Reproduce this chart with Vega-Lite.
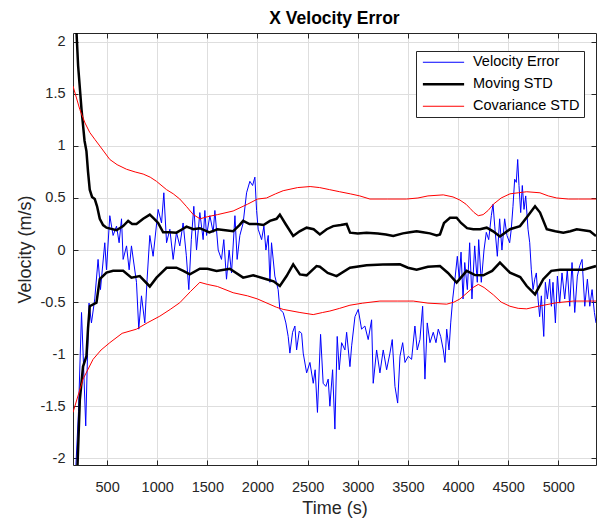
{
  "$schema": "https://vega.github.io/schema/vega-lite/v6.json",
  "width": 523,
  "height": 432,
  "autosize": {"type": "none"},
  "padding": {"left": 73, "top": 33, "right": 7, "bottom": 57},
  "background": "white",
  "title": {"text": "X Velocity Error", "font": "Liberation Sans", "fontSize": 17.5, "fontWeight": "bold", "color": "#000000", "anchor": "middle", "baseline": "alphabetic", "offset": -9},
  "config": {
    "font": "Liberation Sans",
    "view": {"stroke": null},
    "axis": {
      "domainColor": "#262626", "tickColor": "#262626", "tickSize": -5, "tickWidth": 1, "domainWidth": 1,
      "labelFont": "Liberation Sans", "labelFontSize": 14.5, "labelColor": "#262626",
      "titleFont": "Liberation Sans", "titleFontSize": 18, "titleFontWeight": "normal", "titleColor": "#262626",
      "gridColor": "#dedede", "gridOpacity": 1, "gridWidth": 1
    }
  },
  "datasets": {
    "err": [
      {"t":185,"v":-2.15},{"t":215,"v":-1.55},{"t":245,"v":-0.6},{"t":265,"v":-1.1},{"t":287,"v":-1.69},{"t":305,"v":-1.0},{"t":320,"v":-0.51},{"t":344,"v":-0.7},{"t":377,"v":-0.47},{"t":410,"v":-0.09},{"t":434,"v":-0.38},{"t":477,"v":0.07},{"t":494,"v":-0.19},{"t":527,"v":0.33},{"t":560,"v":0.14},{"t":594,"v":0.23},{"t":620,"v":0.07},{"t":644,"v":0.3},{"t":660,"v":-0.09},{"t":694,"v":0.04},{"t":720,"v":-0.19},{"t":743,"v":0.04},{"t":793,"v":-0.31},{"t":816,"v":-0.76},{"t":843,"v":-0.44},{"t":876,"v":-0.7},{"t":899,"v":-0.28},{"t":926,"v":0.14},{"t":959,"v":-0.06},{"t":1009,"v":0.39},{"t":1043,"v":0.26},{"t":1066,"v":0.55},{"t":1093,"v":0.07},{"t":1126,"v":0.2},{"t":1159,"v":-0.09},{"t":1192,"v":0.17},{"t":1225,"v":0.04},{"t":1258,"v":0.26},{"t":1290,"v":-0.05},{"t":1315,"v":-0.38},{"t":1340,"v":0.1},{"t":1365,"v":0.42},{"t":1392,"v":0.0},{"t":1425,"v":0.36},{"t":1458,"v":0.1},{"t":1475,"v":0.38},{"t":1492,"v":0.14},{"t":1525,"v":0.33},{"t":1558,"v":0.17},{"t":1575,"v":0.38},{"t":1608,"v":0.0},{"t":1641,"v":-0.09},{"t":1664,"v":0.1},{"t":1691,"v":-0.28},{"t":1717,"v":0.0},{"t":1741,"v":-0.22},{"t":1775,"v":0.33},{"t":1797,"v":-0.09},{"t":1824,"v":0.14},{"t":1857,"v":0.26},{"t":1891,"v":0.55},{"t":1924,"v":0.66},{"t":1951,"v":0.62},{"t":1974,"v":0.7},{"t":1991,"v":0.38},{"t":2007,"v":0.2},{"t":2041,"v":0.1},{"t":2064,"v":0.23},{"t":2084,"v":0.0},{"t":2107,"v":0.14},{"t":2124,"v":-0.31},{"t":2140,"v":0.07},{"t":2173,"v":-0.25},{"t":2206,"v":-0.38},{"t":2223,"v":-0.57},{"t":2256,"v":-0.6},{"t":2283,"v":-0.7},{"t":2306,"v":-0.83},{"t":2323,"v":-0.99},{"t":2350,"v":-0.79},{"t":2373,"v":-0.73},{"t":2390,"v":-0.96},{"t":2416,"v":-0.78},{"t":2440,"v":-0.8},{"t":2456,"v":-0.99},{"t":2490,"v":-1.18},{"t":2523,"v":-1.08},{"t":2556,"v":-1.28},{"t":2575,"v":-1.15},{"t":2598,"v":-1.56},{"t":2629,"v":-0.81},{"t":2655,"v":-1.28},{"t":2682,"v":-1.31},{"t":2705,"v":-1.24},{"t":2722,"v":-1.5},{"t":2749,"v":-1.15},{"t":2772,"v":-1.72},{"t":2795,"v":-0.83},{"t":2815,"v":-1.15},{"t":2839,"v":-0.89},{"t":2872,"v":-0.96},{"t":2889,"v":-0.79},{"t":2922,"v":-1.12},{"t":2939,"v":-0.92},{"t":2972,"v":-0.64},{"t":3005,"v":-0.57},{"t":3038,"v":-0.76},{"t":3071,"v":-0.73},{"t":3104,"v":-0.86},{"t":3138,"v":-0.67},{"t":3154,"v":-1.28},{"t":3188,"v":-0.96},{"t":3221,"v":-1.18},{"t":3254,"v":-0.96},{"t":3288,"v":-1.15},{"t":3321,"v":-0.99},{"t":3344,"v":-0.86},{"t":3371,"v":-1.31},{"t":3398,"v":-1.47},{"t":3421,"v":-1.02},{"t":3448,"v":-0.89},{"t":3471,"v":-1.08},{"t":3504,"v":-1.02},{"t":3537,"v":-1.05},{"t":3570,"v":-0.73},{"t":3593,"v":-0.96},{"t":3620,"v":-0.86},{"t":3647,"v":-0.54},{"t":3670,"v":-1.24},{"t":3693,"v":-0.7},{"t":3720,"v":-0.89},{"t":3753,"v":-0.79},{"t":3780,"v":-0.89},{"t":3803,"v":-0.76},{"t":3827,"v":-0.83},{"t":3853,"v":-0.96},{"t":3870,"v":-1.08},{"t":3887,"v":-0.76},{"t":3910,"v":-0.96},{"t":3927,"v":-0.7},{"t":3947,"v":-0.47},{"t":3969,"v":-0.28},{"t":3993,"v":-0.06},{"t":4012,"v":-0.28},{"t":4030,"v":-0.02},{"t":4050,"v":-0.47},{"t":4067,"v":-0.12},{"t":4093,"v":-0.38},{"t":4116,"v":0.07},{"t":4139,"v":-0.47},{"t":4166,"v":0.04},{"t":4192,"v":-0.31},{"t":4206,"v":0.1},{"t":4232,"v":-0.31},{"t":4259,"v":0.0},{"t":4282,"v":0.17},{"t":4306,"v":0.1},{"t":4332,"v":0.33},{"t":4349,"v":0.44},{"t":4366,"v":0.23},{"t":4392,"v":-0.06},{"t":4415,"v":0.3},{"t":4438,"v":0.0},{"t":4465,"v":0.3},{"t":4488,"v":0.14},{"t":4515,"v":0.07},{"t":4531,"v":0.2},{"t":4548,"v":0.42},{"t":4565,"v":0.68},{"t":4581,"v":0.65},{"t":4595,"v":0.87},{"t":4608,"v":0.62},{"t":4625,"v":0.36},{"t":4641,"v":0.62},{"t":4658,"v":0.39},{"t":4675,"v":0.52},{"t":4698,"v":0.2},{"t":4715,"v":0.07},{"t":4731,"v":-0.19},{"t":4748,"v":-0.38},{"t":4765,"v":-0.28},{"t":4781,"v":-0.22},{"t":4798,"v":-0.47},{"t":4814,"v":-0.64},{"t":4831,"v":-0.44},{"t":4855,"v":-0.83},{"t":4871,"v":-0.31},{"t":4891,"v":-0.47},{"t":4914,"v":-0.28},{"t":4931,"v":-0.54},{"t":4947,"v":-0.31},{"t":4971,"v":-0.7},{"t":4991,"v":-0.25},{"t":5014,"v":-0.51},{"t":5037,"v":-0.22},{"t":5064,"v":-0.47},{"t":5090,"v":-0.19},{"t":5114,"v":-0.54},{"t":5137,"v":-0.12},{"t":5164,"v":-0.6},{"t":5190,"v":-0.25},{"t":5214,"v":-0.15},{"t":5237,"v":-0.09},{"t":5264,"v":-0.54},{"t":5290,"v":-0.28},{"t":5314,"v":-0.54},{"t":5337,"v":-0.38},{"t":5360,"v":-0.6},{"t":5376,"v":-0.7}
    ],
    "mstd": [
      {"side":"hi","t":165,"v":2.6},{"side":"hi","t":195,"v":2.09},{"side":"hi","t":211,"v":1.77},{"side":"hi","t":245,"v":1.35},{"side":"hi","t":275,"v":1.05},{"side":"hi","t":294,"v":0.95},{"side":"hi","t":310,"v":0.75},{"side":"hi","t":327,"v":0.58},{"side":"hi","t":350,"v":0.51},{"side":"hi","t":377,"v":0.49},{"side":"hi","t":400,"v":0.42},{"side":"hi","t":427,"v":0.3},{"side":"hi","t":460,"v":0.24},{"side":"hi","t":494,"v":0.215},{"side":"hi","t":594,"v":0.19},{"side":"hi","t":660,"v":0.23},{"side":"hi","t":710,"v":0.28},{"side":"hi","t":750,"v":0.25},{"side":"hi","t":793,"v":0.25},{"side":"hi","t":860,"v":0.3},{"side":"hi","t":926,"v":0.34},{"side":"hi","t":970,"v":0.3},{"side":"hi","t":1009,"v":0.26},{"side":"hi","t":1059,"v":0.17},{"side":"hi","t":1120,"v":0.17},{"side":"hi","t":1192,"v":0.167},{"side":"hi","t":1250,"v":0.2},{"side":"hi","t":1292,"v":0.225},{"side":"hi","t":1360,"v":0.2},{"side":"hi","t":1425,"v":0.21},{"side":"hi","t":1520,"v":0.17},{"side":"hi","t":1600,"v":0.2},{"side":"hi","t":1680,"v":0.19},{"side":"hi","t":1757,"v":0.18},{"side":"hi","t":1820,"v":0.24},{"side":"hi","t":1857,"v":0.28},{"side":"hi","t":1920,"v":0.25},{"side":"hi","t":1991,"v":0.25},{"side":"hi","t":2060,"v":0.24},{"side":"hi","t":2124,"v":0.28},{"side":"hi","t":2190,"v":0.3},{"side":"hi","t":2223,"v":0.34},{"side":"hi","t":2280,"v":0.25},{"side":"hi","t":2356,"v":0.135},{"side":"hi","t":2420,"v":0.18},{"side":"hi","t":2490,"v":0.215},{"side":"hi","t":2560,"v":0.2},{"side":"hi","t":2622,"v":0.15},{"side":"hi","t":2690,"v":0.2},{"side":"hi","t":2755,"v":0.23},{"side":"hi","t":2830,"v":0.24},{"side":"hi","t":2889,"v":0.25},{"side":"hi","t":2923,"v":0.167},{"side":"hi","t":3000,"v":0.16},{"side":"hi","t":3088,"v":0.167},{"side":"hi","t":3200,"v":0.16},{"side":"hi","t":3280,"v":0.15},{"side":"hi","t":3354,"v":0.135},{"side":"hi","t":3450,"v":0.16},{"side":"hi","t":3520,"v":0.17},{"side":"hi","t":3587,"v":0.18},{"side":"hi","t":3650,"v":0.17},{"side":"hi","t":3720,"v":0.16},{"side":"hi","t":3787,"v":0.14},{"side":"hi","t":3820,"v":0.15},{"side":"hi","t":3860,"v":0.26},{"side":"hi","t":3920,"v":0.31},{"side":"hi","t":3986,"v":0.31},{"side":"hi","t":4030,"v":0.26},{"side":"hi","t":4090,"v":0.21},{"side":"hi","t":4152,"v":0.2},{"side":"hi","t":4220,"v":0.2},{"side":"hi","t":4286,"v":0.215},{"side":"hi","t":4350,"v":0.18},{"side":"hi","t":4418,"v":0.13},{"side":"hi","t":4518,"v":0.2},{"side":"hi","t":4618,"v":0.23},{"side":"hi","t":4690,"v":0.32},{"side":"hi","t":4768,"v":0.42},{"side":"hi","t":4818,"v":0.36},{"side":"hi","t":4885,"v":0.2},{"side":"hi","t":4970,"v":0.18},{"side":"hi","t":5050,"v":0.167},{"side":"hi","t":5120,"v":0.18},{"side":"hi","t":5184,"v":0.2},{"side":"hi","t":5250,"v":0.19},{"side":"hi","t":5316,"v":0.18},{"side":"hi","t":5376,"v":0.135},
      {"side":"lo","t":175,"v":-2.5},{"side":"lo","t":205,"v":-2.07},{"side":"lo","t":228,"v":-1.44},{"side":"lo","t":260,"v":-1.12},{"side":"lo","t":294,"v":-1.02},{"side":"lo","t":310,"v":-0.75},{"side":"lo","t":327,"v":-0.54},{"side":"lo","t":394,"v":-0.506},{"side":"lo","t":427,"v":-0.28},{"side":"lo","t":494,"v":-0.217},{"side":"lo","t":560,"v":-0.2},{"side":"lo","t":660,"v":-0.2},{"side":"lo","t":743,"v":-0.265},{"side":"lo","t":826,"v":-0.25},{"side":"lo","t":926,"v":-0.35},{"side":"lo","t":993,"v":-0.265},{"side":"lo","t":1093,"v":-0.17},{"side":"lo","t":1192,"v":-0.17},{"side":"lo","t":1260,"v":-0.2},{"side":"lo","t":1325,"v":-0.234},{"side":"lo","t":1425,"v":-0.18},{"side":"lo","t":1500,"v":-0.18},{"side":"lo","t":1592,"v":-0.2},{"side":"lo","t":1724,"v":-0.18},{"side":"lo","t":1857,"v":-0.265},{"side":"lo","t":1957,"v":-0.243},{"side":"lo","t":2090,"v":-0.28},{"side":"lo","t":2160,"v":-0.3},{"side":"lo","t":2223,"v":-0.346},{"side":"lo","t":2290,"v":-0.25},{"side":"lo","t":2356,"v":-0.137},{"side":"lo","t":2423,"v":-0.234},{"side":"lo","t":2490,"v":-0.243},{"side":"lo","t":2589,"v":-0.154},{"side":"lo","t":2622,"v":-0.16},{"side":"lo","t":2700,"v":-0.22},{"side":"lo","t":2789,"v":-0.25},{"side":"lo","t":2922,"v":-0.17},{"side":"lo","t":3088,"v":-0.147},{"side":"lo","t":3250,"v":-0.14},{"side":"lo","t":3421,"v":-0.137},{"side":"lo","t":3500,"v":-0.17},{"side":"lo","t":3587,"v":-0.19},{"side":"lo","t":3700,"v":-0.16},{"side":"lo","t":3820,"v":-0.154},{"side":"lo","t":3900,"v":-0.22},{"side":"lo","t":3986,"v":-0.313},{"side":"lo","t":4086,"v":-0.2},{"side":"lo","t":4170,"v":-0.24},{"side":"lo","t":4252,"v":-0.243},{"side":"lo","t":4340,"v":-0.2},{"side":"lo","t":4418,"v":-0.12},{"side":"lo","t":4518,"v":-0.217},{"side":"lo","t":4620,"v":-0.26},{"side":"lo","t":4685,"v":-0.346},{"side":"lo","t":4768,"v":-0.426},{"side":"lo","t":4850,"v":-0.28},{"side":"lo","t":4930,"v":-0.2},{"side":"lo","t":5017,"v":-0.19},{"side":"lo","t":5250,"v":-0.19},{"side":"lo","t":5376,"v":-0.154}
    ],
    "cstd": [
      {"side":"hi","t":160,"v":1.575},{"side":"hi","t":228,"v":1.35},{"side":"hi","t":280,"v":1.22},{"side":"hi","t":327,"v":1.13},{"side":"hi","t":380,"v":1.06},{"side":"hi","t":427,"v":1.0},{"side":"hi","t":527,"v":0.87},{"side":"hi","t":600,"v":0.82},{"side":"hi","t":694,"v":0.776},{"side":"hi","t":780,"v":0.75},{"side":"hi","t":860,"v":0.73},{"side":"hi","t":930,"v":0.7},{"side":"hi","t":993,"v":0.66},{"side":"hi","t":1093,"v":0.58},{"side":"hi","t":1160,"v":0.54},{"side":"hi","t":1225,"v":0.49},{"side":"hi","t":1290,"v":0.42},{"side":"hi","t":1360,"v":0.34},{"side":"hi","t":1427,"v":0.3},{"side":"hi","t":1500,"v":0.32},{"side":"hi","t":1600,"v":0.34},{"side":"hi","t":1757,"v":0.375},{"side":"hi","t":1900,"v":0.44},{"side":"hi","t":2000,"v":0.49},{"side":"hi","t":2090,"v":0.5},{"side":"hi","t":2180,"v":0.54},{"side":"hi","t":2256,"v":0.57},{"side":"hi","t":2400,"v":0.6},{"side":"hi","t":2525,"v":0.61},{"side":"hi","t":2620,"v":0.6},{"side":"hi","t":2720,"v":0.58},{"side":"hi","t":2820,"v":0.56},{"side":"hi","t":2925,"v":0.54},{"side":"hi","t":3020,"v":0.52},{"side":"hi","t":3121,"v":0.49},{"side":"hi","t":3300,"v":0.49},{"side":"hi","t":3487,"v":0.49},{"side":"hi","t":3600,"v":0.5},{"side":"hi","t":3700,"v":0.52},{"side":"hi","t":3853,"v":0.53},{"side":"hi","t":3950,"v":0.51},{"side":"hi","t":4019,"v":0.48},{"side":"hi","t":4080,"v":0.44},{"side":"hi","t":4120,"v":0.4},{"side":"hi","t":4160,"v":0.36},{"side":"hi","t":4202,"v":0.33},{"side":"hi","t":4250,"v":0.34},{"side":"hi","t":4300,"v":0.38},{"side":"hi","t":4352,"v":0.44},{"side":"hi","t":4430,"v":0.5},{"side":"hi","t":4518,"v":0.54},{"side":"hi","t":4600,"v":0.55},{"side":"hi","t":4685,"v":0.56},{"side":"hi","t":4817,"v":0.55},{"side":"hi","t":4900,"v":0.52},{"side":"hi","t":4984,"v":0.5},{"side":"hi","t":5100,"v":0.49},{"side":"hi","t":5200,"v":0.49},{"side":"hi","t":5383,"v":0.49},
      {"side":"lo","t":160,"v":-1.56},{"side":"lo","t":260,"v":-1.24},{"side":"lo","t":360,"v":-1.05},{"side":"lo","t":440,"v":-0.96},{"side":"lo","t":527,"v":-0.89},{"side":"lo","t":650,"v":-0.8},{"side":"lo","t":793,"v":-0.76},{"side":"lo","t":900,"v":-0.7},{"side":"lo","t":1026,"v":-0.635},{"side":"lo","t":1130,"v":-0.57},{"side":"lo","t":1225,"v":-0.506},{"side":"lo","t":1330,"v":-0.4},{"side":"lo","t":1425,"v":-0.31},{"side":"lo","t":1500,"v":-0.33},{"side":"lo","t":1600,"v":-0.35},{"side":"lo","t":1757,"v":-0.41},{"side":"lo","t":1900,"v":-0.44},{"side":"lo","t":2000,"v":-0.47},{"side":"lo","t":2190,"v":-0.55},{"side":"lo","t":2256,"v":-0.57},{"side":"lo","t":2423,"v":-0.6},{"side":"lo","t":2556,"v":-0.62},{"side":"lo","t":2650,"v":-0.6},{"side":"lo","t":2722,"v":-0.586},{"side":"lo","t":2820,"v":-0.56},{"side":"lo","t":2922,"v":-0.53},{"side":"lo","t":3050,"v":-0.51},{"side":"lo","t":3221,"v":-0.49},{"side":"lo","t":3400,"v":-0.49},{"side":"lo","t":3553,"v":-0.49},{"side":"lo","t":3700,"v":-0.51},{"side":"lo","t":3887,"v":-0.52},{"side":"lo","t":3960,"v":-0.5},{"side":"lo","t":4019,"v":-0.47},{"side":"lo","t":4080,"v":-0.42},{"side":"lo","t":4150,"v":-0.36},{"side":"lo","t":4202,"v":-0.33},{"side":"lo","t":4260,"v":-0.36},{"side":"lo","t":4352,"v":-0.43},{"side":"lo","t":4430,"v":-0.5},{"side":"lo","t":4518,"v":-0.54},{"side":"lo","t":4600,"v":-0.56},{"side":"lo","t":4685,"v":-0.565},{"side":"lo","t":4800,"v":-0.54},{"side":"lo","t":4984,"v":-0.506},{"side":"lo","t":5150,"v":-0.49},{"side":"lo","t":5383,"v":-0.49}
    ]
  },
  "resolve": {"axis": {"x": "independent", "y": "independent"}},
  "layer": [
    {
      "data": {"name": "err"},
      "mark": {"type": "line", "strokeWidth": 1, "clip": true},
      "encoding": {
        "x": {"field": "t", "type": "quantitative", "scale": {"domain": [160, 5376], "nice": false, "zero": false},
              "axis": {"orient": "bottom", "title": "Time (s)", "values": [500,1000,1500,2000,2500,3000,3500,4000,4500,5000], "format": "d", "grid": true, "labelPadding": 20, "titlePadding": 6}},
        "y": {"field": "v", "type": "quantitative", "scale": {"domain": [-2.065, 2.085], "nice": false, "zero": false},
              "axis": {"orient": "left", "title": "Velocity (m/s)", "values": [-2,-1.5,-1,-0.5,0,0.5,1,1.5,2], "labelExpr": "datum.value < 0 ? '-' + format(-datum.value, '~g') : format(datum.value, '~g')", "grid": true, "labelPadding": 13, "titlePadding": 6}},
        "color": {"datum": "Velocity Error", "type": "nominal",
                  "scale": {"domain": ["Velocity Error", "Moving STD", "Covariance STD"], "range": ["#0000ff", "#000000", "#ff0000"]},
                  "legend": {"orient": "none", "legendX": 343, "legendY": 18, "title": null, "symbolType": "stroke", "symbolSize": 1700, "symbolStrokeWidth": 1,
                             "labelFont": "Liberation Sans", "labelFontSize": 14.5, "labelColor": "#000000",
                             "strokeColor": "#262626", "fillColor": "#ffffff", "padding": 4, "rowPadding": 7, "cornerRadius": 0,
                             "encode": {
                               "symbols": {"update": {"strokeWidth": {"signal": "datum.value === 'Moving STD' ? 2.5 : 1"}, "x": {"value": 23.5}}},
                               "labels": {"update": {"x": {"value": 53}}}
                             }}}
      }
    },
    {
      "data": {"name": "mstd"},
      "mark": {"type": "line", "strokeWidth": 2.5, "clip": true},
      "encoding": {
        "x": {"field": "t", "type": "quantitative", "scale": {"domain": [160, 5376], "nice": false, "zero": false},
              "axis": {"orient": "top", "title": null, "labels": false, "grid": false, "values": [500,1000,1500,2000,2500,3000,3500,4000,4500,5000]}},
        "y": {"field": "v", "type": "quantitative", "scale": {"domain": [-2.065, 2.085], "nice": false, "zero": false},
              "axis": {"orient": "right", "title": null, "labels": false, "grid": false, "values": [-2,-1.5,-1,-0.5,0,0.5,1,1.5,2]}},
        "detail": {"field": "side", "type": "nominal"},
        "color": {"datum": "Moving STD", "type": "nominal"}
      }
    },
    {
      "data": {"name": "cstd"},
      "mark": {"type": "line", "strokeWidth": 1, "clip": true},
      "encoding": {
        "x": {"field": "t", "type": "quantitative", "scale": {"domain": [160, 5376], "nice": false, "zero": false}, "axis": null},
        "y": {"field": "v", "type": "quantitative", "scale": {"domain": [-2.065, 2.085], "nice": false, "zero": false}, "axis": null},
        "detail": {"field": "side", "type": "nominal"},
        "color": {"datum": "Covariance STD", "type": "nominal"}
      }
    }
  ]
}
